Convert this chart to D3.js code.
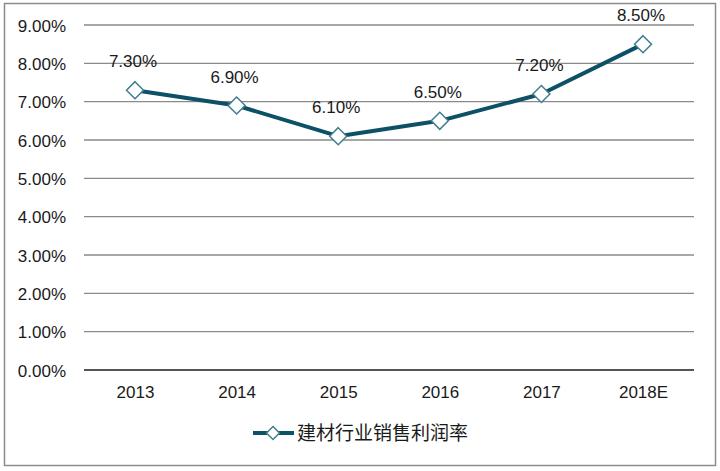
<!DOCTYPE html>
<html><head><meta charset="utf-8">
<script src="https://cdn.jsdelivr.net/npm/d3@7"></script>
<style>body{margin:0;background:#fff}svg{display:block}</style>
</head><body>
<svg id="c" width="720" height="471"></svg>
<script>
const categories = ["2013","2014","2015","2016","2017","2018E"];
const values = [7.30, 6.90, 6.10, 6.50, 7.20, 8.50];
const yTicks = [0,1,2,3,4,5,6,7,8,9];
const seriesName = "建材行业销售利润率";

const svg = d3.select("#c");
const font = "Arial, 'Liberation Sans', sans-serif";
svg.append("rect").attr("x",4.5).attr("y",3.5).attr("width",711).attr("height",462)
  .attr("fill","#fff").attr("stroke","#8c8c8c").attr("stroke-width",1.5);

const x = d3.scalePoint().domain(categories).range([135,643]);
const y = d3.scaleLinear().domain([0,9]).range([370,25]);
const left = 84, right = 694;

const g = svg.append("g");
g.selectAll("line.grid").data(yTicks).join("line")
  .attr("x1",left).attr("x2",right).attr("y1",d=>y(d)).attr("y2",d=>y(d))
  .attr("stroke",d=>d===0?"#555":"#8a8a8a").attr("stroke-width",d=>d===0?2:1.3);

const yAxis = d3.axisLeft(y).tickValues(yTicks).tickSize(0).tickPadding(0)
  .tickFormat(d=>d.toFixed(2)+"%");
const ya = svg.append("g").attr("transform","translate(66,0)").call(yAxis);
ya.select(".domain").remove();
ya.selectAll("text").attr("font-family",font).attr("font-size",17).attr("fill","#1a1a1a").attr("dy","0.36em");

const xAxis = d3.axisBottom(x).tickSize(0).tickPadding(0);
const xa = svg.append("g").attr("transform","translate(0,383)").call(xAxis);
xa.select(".domain").remove();
xa.selectAll("text").attr("font-family",font).attr("font-size",17).attr("fill","#1a1a1a").attr("y",15).attr("dy",0);

const lineColor = "#0c5166", markerStroke = "#3f7d8f";
const line = d3.line().x((d,i)=>x(categories[i])).y(d=>y(d));
svg.append("path").datum(values).attr("d",line).attr("fill","none")
  .attr("stroke",lineColor).attr("stroke-width",4).attr("stroke-linejoin","round");

const diamond = (cx,cy,r)=>`M${cx},${cy-r}L${cx+r},${cy}L${cx},${cy+r}L${cx-r},${cy}Z`;
svg.selectAll("path.m").data(values).join("path").attr("class","m")
  .attr("d",(d,i)=>diamond(x(categories[i]),y(d),8.5))
  .attr("fill","#fff").attr("stroke",markerStroke).attr("stroke-width",1.5);

svg.selectAll("text.lbl").data(values).join("text").attr("class","lbl")
  .attr("x",(d,i)=>x(categories[i])-2).attr("y",d=>y(d)-23)
  .attr("text-anchor","middle").attr("font-family",font).attr("font-size",17).attr("fill","#1a1a1a")
  .text(d=>d.toFixed(2)+"%");

// legend
const lg = svg.append("g");
lg.append("line").attr("x1",253).attr("x2",294).attr("y1",433).attr("y2",433)
  .attr("stroke",lineColor).attr("stroke-width",4);
lg.append("path").attr("d",diamond(273,433,6.5)).attr("fill","#fff").attr("stroke",markerStroke).attr("stroke-width",1.5);
lg.append("text").attr("x",297).attr("y",433).attr("dy","0.36em")
  .attr("font-family","'Noto Sans CJK SC', sans-serif").attr("font-size",19).attr("fill","#1a1a1a")
  .text(seriesName);
</script>
</body></html>
